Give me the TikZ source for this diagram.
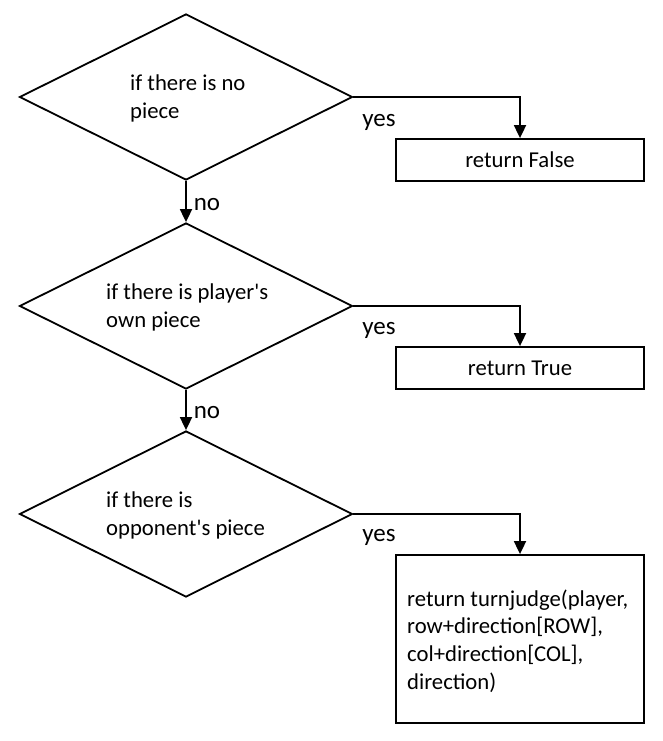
\documentclass[tikz,border=0pt]{standalone}
\usepackage{fontspec}
\setmainfont{Carlito}
\usetikzlibrary{shapes.geometric,arrows.meta}
\begin{document}
\begin{tikzpicture}[x=1pt,y=-1pt,
  every node/.style={font=\fontsize{22.7}{27.7}\selectfont},
  decision/.style={draw,line width=1.8pt,diamond,inner sep=0pt,minimum width=333pt,minimum height=166pt},
  result/.style={draw,line width=1.8pt,rectangle,inner sep=0pt,minimum width=248pt},
  txt/.style={inner sep=0pt,align=left,anchor=west},
  lbl/.style={inner sep=0pt,font=\fontsize{25}{30}\selectfont},
  arr/.style={line width=1.8pt,-{Triangle[length=13pt,width=12pt]}}]
\useasboundingbox (0,0) rectangle (663,741);
\node[decision] (d1) at (186,97) {};
\node[decision] (d2) at (186,306) {};
\node[decision] (d3) at (186,514) {};
\node[result,minimum height=42pt] (b1) at (520,160) {return False};
\node[result,minimum height=42pt] (b2) at (520,368) {return True};
\node[result,minimum height=168pt] (b3) at (520,639) {};
\node[txt] (t1) at (130,98.5) {if there is no\\piece};
\node[txt] (t2) at (106,307.5) {if there is player\textquotesingle s\\own piece};
\node[txt] (t3) at (106,515.5) {if there is\\opponent\textquotesingle s piece};
\node[txt] (t4) at (407,641) {return turnjudge(player,\\row+direction[ROW],\\col+direction[COL],\\direction)};
\draw[arr] (d1.east) -| (b1.north);
\draw[arr] (d2.east) -| (b2.north);
\draw[arr] (d3.east) -| (b3.north);
\draw[arr] (d1.south) -- (d2.north);
\draw[arr] (d2.south) -- (d3.north);
\node[lbl] (y1) at (379,122) {yes};
\node[lbl] (y2) at (379,330) {yes};
\node[lbl] (y3) at (379,537) {yes};
\node[lbl] (n1) at (207,205) {no};
\node[lbl] (n2) at (207,413) {no};
\end{tikzpicture}
\end{document}
